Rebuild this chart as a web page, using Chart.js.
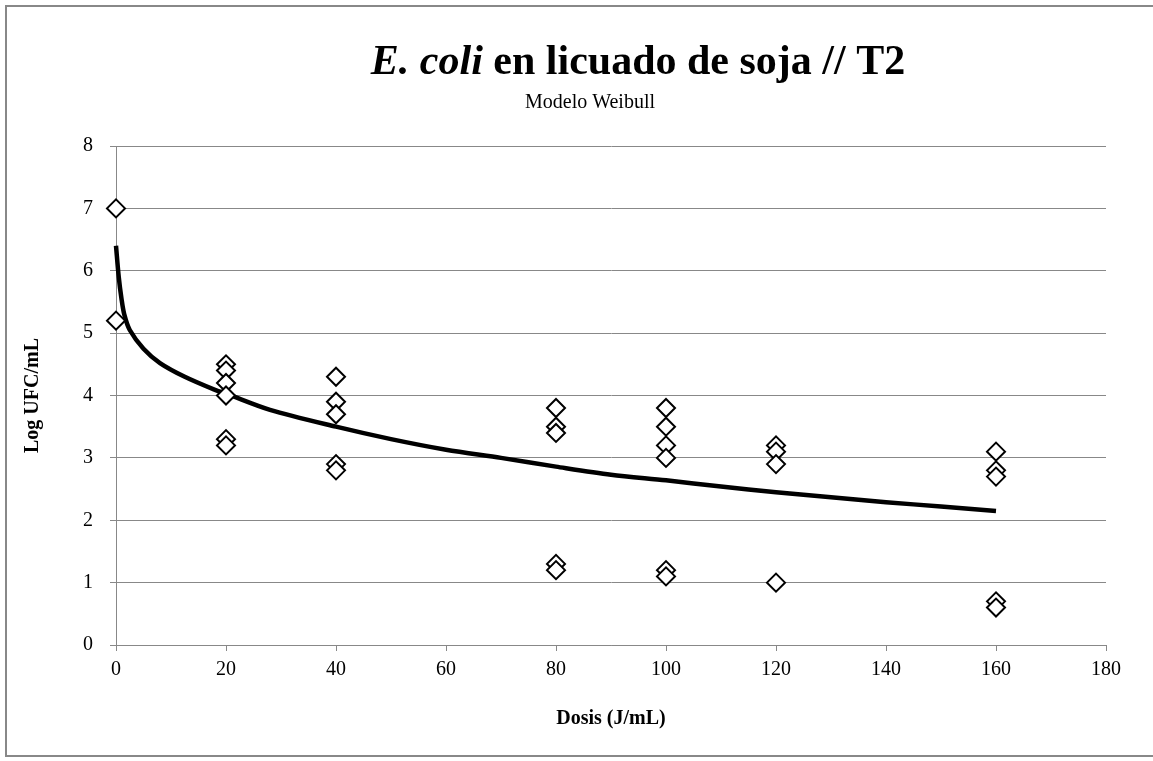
<!DOCTYPE html>
<html>
<head>
<meta charset="utf-8">
<script src="https://cdn.jsdelivr.net/npm/chart.js@4/dist/chart.umd.min.js"></script>
<style>
  html, body { margin: 0; padding: 0; background: #fff; }
  #wrap { position: relative; width: 1153px; height: 761px; }
  #frame {
    position: absolute; left: 5px; top: 5px; width: 1160px; height: 752px;
    border: 2px solid #888; border-right: none; box-sizing: border-box;
  }
</style>
</head>
<body>
<div id="wrap">
  <div id="frame"></div>
  <canvas id="chart1" width="1153" height="761"></canvas>
</div>
<script>
// observed counts per dose
const dosePoints = [0, 0,
  20, 20, 20, 20, 20, 20,
  40, 40, 40, 40, 40,
  80, 80, 80, 80, 80,
  100, 100, 100, 100, 100, 100,
  120, 120, 120, 120,
  160, 160, 160, 160, 160];
const logCounts = [7.0, 5.2,
  4.5, 4.4, 4.2, 4.0, 3.3, 3.2,
  4.3, 3.9, 3.7, 2.9, 2.8,
  3.8, 3.5, 3.4, 1.3, 1.2,
  3.8, 3.5, 3.2, 3.0, 1.2, 1.1,
  3.2, 3.1, 2.9, 1.0,
  3.1, 2.8, 2.7, 0.7, 0.6];

// fitted Weibull curve
const doseModel = [0, 0.5, 1, 1.5, 2.5, 5, 8, 12.5, 18, 20, 28, 40, 50, 60, 70, 80, 90, 100, 110, 120, 130, 140, 150, 160];
const logModel = [6.4, 5.9, 5.55, 5.3, 5.05, 4.75, 4.52, 4.3, 4.09, 4.03, 3.77, 3.5, 3.3, 3.13, 3.0, 2.86, 2.73, 2.64, 2.54, 2.45, 2.37, 2.29, 2.22, 2.15];

const serif = "'Liberation Serif', 'Times New Roman', serif";

const toXY = (xs, ys) => xs.map((x, i) => ({ x: x, y: ys[i] }));

// title drawn by hand: italic species name followed by bold text
const titlePlugin = {
  id: "mixedTitle",
  afterDraw(chart) {
    const c = chart.ctx;
    const partA = "E. coli";
    const partB = " en licuado de soja // T2";
    c.save();
    c.fillStyle = "#000";
    c.textBaseline = "alphabetic";
    c.font = "italic bold 42px " + serif;
    const wA = c.measureText(partA).width;
    c.font = "bold 42px " + serif;
    const wB = c.measureText(partB).width;
    let x = 638 - (wA + wB) / 2;
    c.textAlign = "left";
    c.font = "italic bold 42px " + serif;
    c.fillText(partA, x, 74);
    c.font = "bold 42px " + serif;
    c.fillText(partB, x + wA, 74);
    c.font = "20px " + serif;
    c.textAlign = "center";
    c.fillText("Modelo Weibull", 590, 108);
    c.restore();
  },
};

const ctx = document.getElementById("chart1");
const chart = new Chart(ctx, {
  type: "scatter",
  data: {
    datasets: [
      {
        data: toXY(dosePoints, logCounts),
        pointStyle: "rectRot",
        pointRadius: 9,
        pointHoverRadius: 9,
        backgroundColor: "#fff",
        borderColor: "#000",
        borderWidth: 2,
        clip: false,
        order: 0,
      },
      {
        data: toXY(doseModel, logModel),
        showLine: true,
        pointRadius: 0,
        borderColor: "#000",
        borderWidth: 4.5,
        tension: 0.3,
        clip: false,
        order: 1,
      },
    ],
  },
  options: {
    responsive: false,
    animation: false,
    layout: { padding: { left: 17, right: 47, top: 146, bottom: 26 } },
    plugins: {
      legend: { display: false },
      tooltip: { enabled: false },
    },
    scales: {
      x: {
        type: "linear",
        min: 0,
        max: 180,
        afterFit: (s) => { s.height = 90; },
        ticks: { stepSize: 20, color: "#000", font: { family: serif, size: 20 }, padding: 7 },
        grid: { drawOnChartArea: false, drawTicks: true, tickLength: 6, color: "#888" },
        border: { color: "#888", width: 1 },
        title: {
          display: true,
          text: "Dosis (J/mL)",
          color: "#000",
          font: { family: serif, size: 20, weight: "bold" },
          padding: { top: 4, bottom: 4 },
        },
      },
      y: {
        min: 0,
        max: 8,
        afterFit: (s) => { s.width = 99; },
        ticks: { stepSize: 1, color: "#000", font: { family: serif, size: 20 }, padding: 17 },
        grid: { color: "#888", lineWidth: 1, tickLength: 6 },
        border: { color: "#888", width: 1 },
        title: {
          display: true,
          text: "Log UFC/mL",
          color: "#000",
          font: { family: serif, size: 20, weight: "bold" },
          padding: { top: 4, bottom: 4 },
        },
      },
    },
  },
  plugins: [titlePlugin],
});
</script>
</body>
</html>
